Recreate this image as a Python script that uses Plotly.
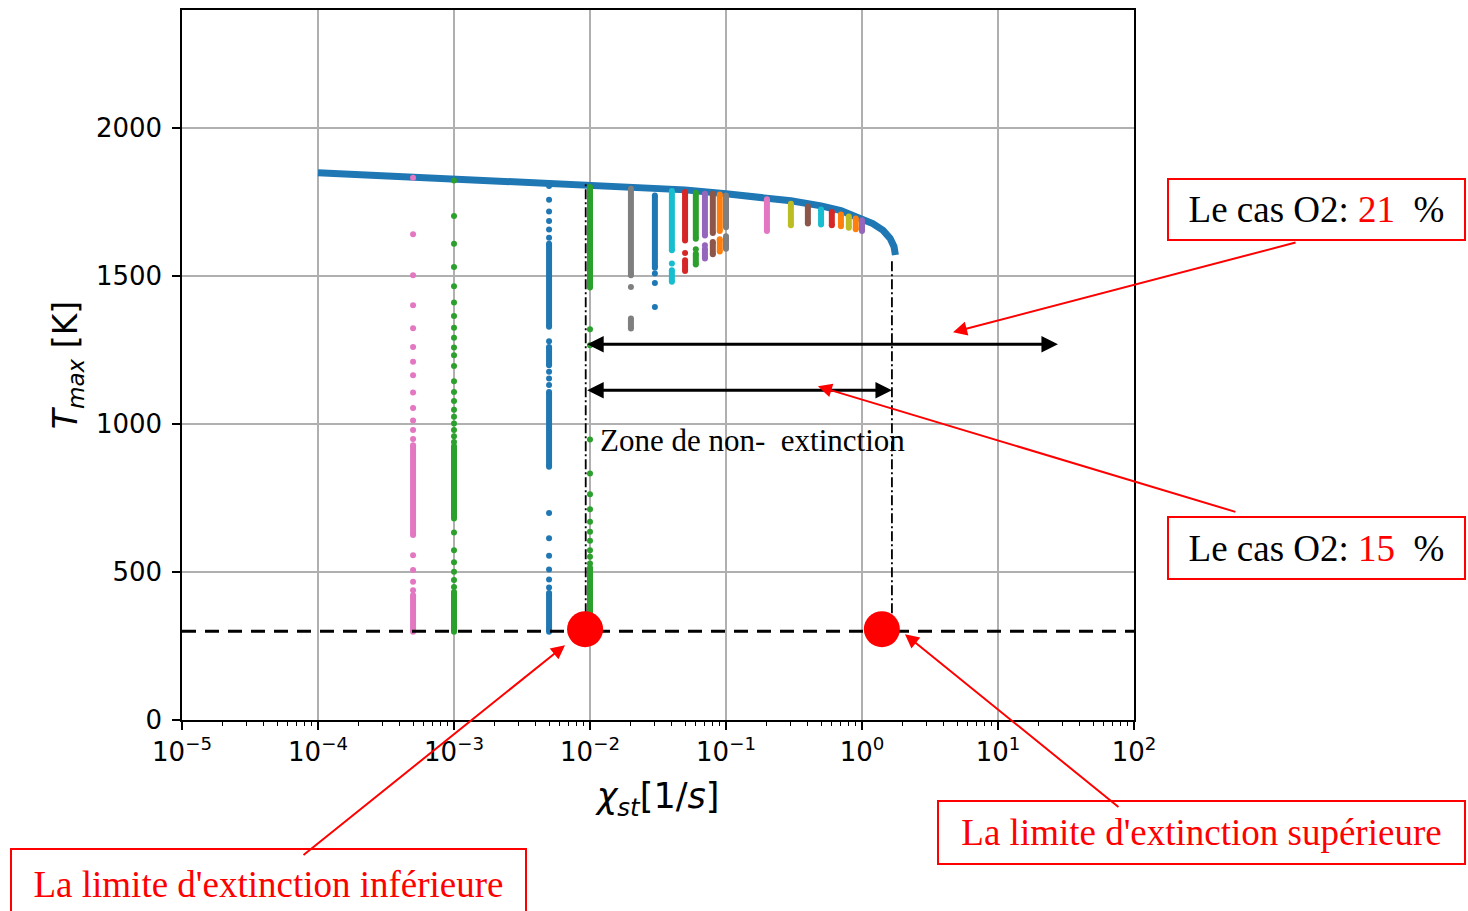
import math
import plotly.graph_objects as go

# ---------------- data ----------------
# upper (burning) branch of the S-curve
curve_chi = [1e-4, 1e-3, 1e-2, 0.05, 0.1, 0.2, 0.3, 0.5, 0.7, 1.0, 1.2, 1.43, 1.61, 1.72, 1.75, 1.76]
curve_T = [1850, 1829, 1808, 1792, 1779, 1766, 1755, 1738, 1722, 1693, 1678, 1655, 1628, 1600, 1582, 1572]

# unsteady computations: one column of Tmax values per imposed chi_st
col_chi = [5e-4, 1e-3, 5e-3, 1e-2, 2e-2, 3e-2, 4e-2, 5e-2, 6e-2, 7e-2, 8e-2, 9e-2,
           0.1, 0.2, 0.3, 0.4, 0.5, 0.6, 0.7, 0.8, 0.9, 1.0]
col_colors = ["#e377c2", "#2ca02c", "#1f77b4", "#2ca02c", "#7f7f7f", "#1f77b4", "#17becf",
              "#d62728", "#2ca02c", "#9467bd", "#8c564b", "#ff7f0e", "#7f7f7f", "#e377c2",
              "#bcbd22", "#8c564b", "#17becf", "#d62728", "#ff7f0e", "#bcbd22", "#ff7f0e",
              "#9467bd"]
# isolated points of each column
col_points = [
    [1833, 1642, 1503, 1402, 1324, 1261, 1211, 1165, 1107, 1055, 1012, 980, 950, 557, 507, 467, 439],
    [1824, 1704, 1610, 1531, 1466, 1411, 1366, 1326, 1292, 1259, 1233, 1197, 1145, 1109, 1078, 1049,
     1025, 1002, 980, 959, 940, 634, 574, 533, 501, 473, 450],
    [1805, 1759, 1719, 1687, 1658, 1630, 1280, 1177, 1154, 1132, 700, 614, 555, 509, 475, 448],
    [1321, 1267, 948, 833, 763, 712, 670, 636, 606, 574, 552, 529],
    [1464],
    [1509, 1477, 1396],
    [1543],
    [1579],
    [1591],
    [1605],
    [], [], [], [], [], [], [], [], [], [], [], [],
]
# dense runs of points (low, high) in each column
col_runs = [
    [(625, 929), (298, 422)],
    [(681, 925), (298, 433)],
    [(1329, 1610), (1199, 1261), (856, 1109), (298, 429)],
    [(1462, 1802), (298, 515)],
    [(1503, 1796), (1323, 1357)],
    [(1529, 1773)],
    [(1588, 1788), (1481, 1520)],
    [(1621, 1785), (1518, 1554)],
    [(1627, 1782), (1540, 1576)],
    [(1638, 1779), (1560, 1593)],
    [(1646, 1779), (1574, 1616)],
    [(1653, 1776), (1584, 1625)],
    [(1666, 1773), (1593, 1635)],
    [(1653, 1760)],
    [(1672, 1745)],
    [(1678, 1736)],
    [(1675, 1726)],
    [(1672, 1717)],
    [(1669, 1709)],
    [(1664, 1702)],
    [(1659, 1695)],
    [(1653, 1689)],
]

T_ambient = 300
chi_axis_span = [1e-5, 1e2]

# extinction limits (red dots) and the dash-dot limit lines
limit_dot_chi = [0.0092, 1.40]
limit_dot_T = [307, 307]
limit_line_chi = [0.0093, 1.66]
limit_line_top = [1814, 1561]

# extents of the non-extinction zones
zone21_chi = [0.0093, 27.6]
zone21_T = 1270
zone15_chi = [0.0093, 1.66]
zone15_T = 1115
zone_label_chi = 0.0114
zone_label_T = 946

x_tick_vals = [1e-5, 1e-4, 1e-3, 1e-2, 1e-1, 1e0, 1e1, 1e2]
x_tick_text = ["10<sup>\u22125</sup>", "10<sup>\u22124</sup>", "10<sup>\u22123</sup>",
               "10<sup>\u22122</sup>", "10<sup>\u22121</sup>", "10<sup>0</sup>",
               "10<sup>1</sup>", "10<sup>2</sup>"]
y_tick_vals = [0, 500, 1000, 1500, 2000]
minor_vals = [m * 10.0 ** e for e in range(-5, 2) for m in range(2, 10)]

# ---------------- figure ----------------
W, H = 1468, 911
ML, MR, MT, MB = 182, 334, 10, 191
PW, PH = W - ML - MR, H - MT - MB


def px(xp):
    return (xp - ML) / PW


def py(yp):
    return (H - MB - yp) / PH


fig = go.Figure()

fig.add_trace(go.Scatter(x=curve_chi, y=curve_T, mode="lines",
                         line=dict(color="#1f77b4", width=7), showlegend=False))

for c, colr, pts, runs in zip(col_chi, col_colors, col_points, col_runs):
    xs, ys = [], []
    for lo, hi in runs:
        xs += [c, c, None]
        ys += [lo, hi, None]
    for p in pts:
        xs += [c, None]
        ys += [p, None]
    fig.add_trace(go.Scatter(x=xs, y=ys, mode="lines+markers",
                             line=dict(color=colr, width=6),
                             marker=dict(color=colr, size=6),
                             connectgaps=False, showlegend=False))

fig.add_trace(go.Scatter(x=chi_axis_span, y=[T_ambient, T_ambient], mode="lines",
                         line=dict(color="black", width=3, dash="14px,9px"),
                         showlegend=False))

for lx, top in zip(limit_line_chi, limit_line_top):
    fig.add_trace(go.Scatter(x=[lx, lx], y=[T_ambient, top], mode="lines",
                             line=dict(color="black", width=1.8, dash="10px,3px,2px,3px"),
                             showlegend=False))

fig.add_trace(go.Scatter(x=limit_dot_chi, y=limit_dot_T, mode="markers",
                         marker=dict(color="#ff0000", size=36), showlegend=False))

annotations = []
# double arrows for the two zones
for (a, b), yv in ((zone21_chi, zone21_T), (zone15_chi, zone15_T)):
    annotations.append(dict(x=math.log10(b), y=yv, ax=math.log10(a), ay=yv,
                            xref="x", yref="y", axref="x", ayref="y", text="",
                            showarrow=True, arrowside="end+start", arrowhead=2,
                            arrowsize=1.1, arrowwidth=3, arrowcolor="black"))

annotations.append(dict(x=math.log10(zone_label_chi), y=zone_label_T, xref="x", yref="y",
                        xanchor="left", yanchor="middle", showarrow=False,
                        text="Zone de non-\u00a0 extinction",
                        font=dict(family="Liberation Serif", size=31, color="black")))

serif = dict(family="Liberation Serif", size=37, color="black")
red_serif = dict(family="Liberation Serif", size=37, color="#ff0000")

boxes = [
    (1167, 178, 299, 63, "Le cas O2: <span style='color:#ff0000'>21</span> \u00a0%", serif),
    (1167, 516, 299, 64, "Le cas O2: <span style='color:#ff0000'>15</span> \u00a0%", serif),
    (937, 800, 529, 65, "La limite d'extinction supérieure", red_serif),
    (10, 848, 517, 72, "La limite d'extinction inférieure", red_serif),
]
for bx, by, bw, bh, txt, fnt in boxes:
    annotations.append(dict(xref="paper", yref="paper", x=px(bx), y=py(by),
                            xanchor="left", yanchor="top", showarrow=False, text=txt,
                            width=bw - 4, height=bh - 4, align="center", valign="middle",
                            bordercolor="#ff0000", borderwidth=2, borderpad=0,
                            bgcolor="white", font=fnt))

# red pointer arrows (tip in data coords, tail offset in pixels)
pointers = [
    (4.67, 1311, 344, -90),
    (0.474, 1128, 419, 126),
    (0.00655, 253, -263, 211),
    (2.07, 290, 215, 174),
]
for tx, ty, dx, dy in pointers:
    annotations.append(dict(x=math.log10(tx), y=ty, xref="x", yref="y", ax=dx, ay=dy,
                            text="", showarrow=True, arrowhead=2, arrowsize=1.4,
                            arrowwidth=2, arrowcolor="#ff0000"))

tickfont = dict(family="DejaVu Sans", size=26, color="black")

fig.update_layout(
    width=W, height=H,
    margin=dict(l=ML, r=MR, t=MT, b=MB, autoexpand=False),
    paper_bgcolor="white", plot_bgcolor="white",
    showlegend=False,
    annotations=annotations,
    xaxis=dict(type="log", range=[-5, 2], tickmode="array", tickvals=x_tick_vals,
               ticktext=x_tick_text, ticks="outside", ticklen=8, tickwidth=1.5,
               tickcolor="black", showline=True, linecolor="black", linewidth=1.5,
               mirror=True, showgrid=True, gridcolor="#b0b0b0", gridwidth=1.5,
               zeroline=False, tickfont=tickfont,
               minor=dict(tickmode="array", tickvals=minor_vals, ticks="outside",
                          ticklen=4, tickwidth=1, tickcolor="black", showgrid=False),
               title=dict(text="<i>\u03c7</i><sub><i>st</i></sub>[1/<i>s</i>]",
                          font=dict(family="DejaVu Sans", size=35, color="black"),
                          standoff=18)),
    yaxis=dict(range=[0, 2400], tickmode="array", tickvals=y_tick_vals,
               ticks="outside", ticklen=8, tickwidth=1.5, tickcolor="black",
               showline=True, linecolor="black", linewidth=1.5, mirror=True,
               showgrid=True, gridcolor="#b0b0b0", gridwidth=1.5, zeroline=False,
               tickfont=tickfont, ticklabelstandoff=5,
               title=dict(text="<i>T</i><sub><i>max</i></sub> [K]",
                          font=dict(family="DejaVu Sans", size=33, color="black"),
                          standoff=8)),
)

fig.write_html("out.html")
